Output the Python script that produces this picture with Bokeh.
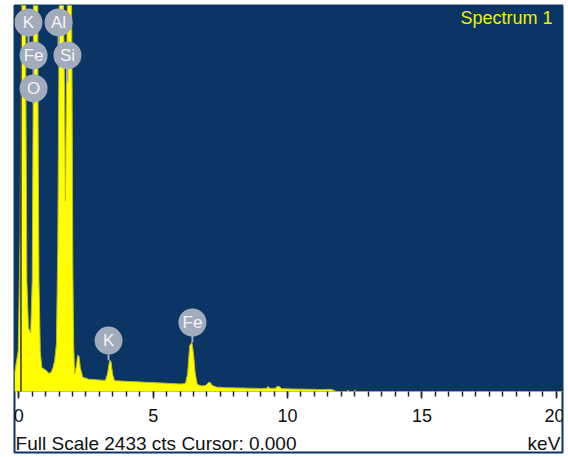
from bokeh.plotting import figure
from bokeh.models import Range1d, LinearAxis, FixedTicker, BoxAnnotation, Label, ColumnDataSource
from bokeh.core.properties import value
from bokeh.embed import file_html
from bokeh.resources import INLINE

# ---------------- data ----------------
full_scale_cts = 2433
spectrum_title = "Spectrum 1"
cursor_kev = [0.08]

energy_kev = [-0.16, -0.02, 0.05, 0.08, 0.11, 0.23, 0.26, 0.30, 0.36, 0.44, 0.50, 0.54,
              0.57, 0.68, 0.71, 0.75, 0.80, 0.86, 1.00, 1.12, 1.20, 1.27, 1.33, 1.40,
              1.45, 1.49, 1.51, 1.55, 1.62, 1.66, 1.70, 1.735, 1.77, 1.81, 1.85, 1.92,
              1.96, 1.98, 2.01, 2.04, 2.08, 2.14, 2.19, 2.24, 2.29, 2.38, 2.60, 3.00,
              3.22, 3.30, 3.38, 3.43, 3.49, 3.56, 4.00, 4.50, 5.00, 5.50, 6.00, 6.20,
              6.28, 6.36, 6.44, 6.50, 6.56, 6.64, 6.80, 6.95, 7.05, 7.12, 7.20, 7.35,
              7.70, 8.30, 9.00, 9.22, 9.28, 9.34, 9.55, 9.62, 9.70, 9.78, 10.2, 10.8,
              11.3, 11.6, 11.72, 11.8, 12.2, 12.25, 12.3, 12.45, 12.5, 12.55, 20.23]
counts = [110, 260, 1000, 2200, 6000, 6000, 2000, 700, 400, 370, 700, 2000,
          6000, 6000, 2000, 700, 250, 150, 135, 115, 120, 150, 190, 300,
          900, 2000, 2500, 9000, 9000, 2500, 1900, 1200, 1900, 2500, 9000, 9000,
          2500, 2000, 800, 300, 110, 160, 228, 222, 150, 90, 78, 72,
          70, 110, 196, 190, 110, 68, 64, 60, 56, 52, 47, 50,
          110, 290, 310, 240, 120, 45, 35, 38, 55, 58, 38, 28,
          24, 22, 19, 20, 32, 20, 20, 34, 30, 18, 16, 14,
          12, 14, 8, 0, 0, 8, 0, 0, 8, 0, 0]

label_names = ["K", "Al", "Fe", "Si", "O", "K", "Fe"]
label_kev = [0.36, 1.48, 0.55, 1.81, 0.55, 3.34, 6.46]
label_cts = [2326, 2326, 2118, 2118, 1910, 321, 435]
stem_end_cts = [2118, 2118, 1910, 1950, 1815, 197, 311]

tick_kev = [0, 5, 10, 15, 20]
minor_tick_kev = [i * 0.5 for i in range(41)]

# text anchor positions (data units)
title_pos = (19.86, 2357)
footer_left_pos = (-0.12, -328)
footer_right_pos = (20.15, -328)

# ---------------- layout / style ----------------
BLUE = "#0A3564"
FRAME_H = 447          # frame height in px
ZERO_FROM_TOP = 386    # px from frame top to 0 counts
y_bottom = -(FRAME_H - ZERO_FROM_TOP) * full_scale_cts / ZERO_FROM_TOP

p = figure(width=564, height=454, output_backend="svg", toolbar_location=None,
           x_axis_type=None, y_axis_type=None,
           x_range=Range1d(-0.16, 20.23), y_range=Range1d(y_bottom, full_scale_cts),
           min_border_left=14, min_border_right=2, min_border_top=5, min_border_bottom=2,
           background_fill_color="white", border_fill_color="white",
           outline_line_color=BLUE, outline_line_width=2)

p.add_layout(BoxAnnotation(bottom=0, fill_color=BLUE, fill_alpha=1.0,
                           line_color=None, level="underlay"))

src = ColumnDataSource(dict(e=energy_kev, c=counts))
p.varea(x="e", y1=0, y2="c", source=src, fill_color="#FFFF00")
p.line(x="e", y="c", source=src, line_color="#B9B92A", line_width=1)

p.segment(x0=cursor_kev, y0=[0], x1=cursor_kev, y1=[full_scale_cts],
          line_color="#333333", line_width=1.5)

# element markers
p.segment(x0=label_kev, y0=label_cts, x1=label_kev, y1=stem_end_cts,
          line_color="#A2ABBB", line_width=2)
p.scatter(x=label_kev, y=label_cts, size=28, fill_color="#A2ABBB", line_color=None)
p.text(x=label_kev, y=label_cts, text=label_names, text_align="center",
       text_baseline="middle", text_color="#F4F4F4",
       text_font=value("Liberation Sans"), text_font_size="17px")

xaxis = LinearAxis(fixed_location=0,
                   ticker=FixedTicker(ticks=tick_kev, minor_ticks=minor_tick_kev),
                   axis_line_color=None,
                   major_tick_in=0, major_tick_out=7, minor_tick_in=0, minor_tick_out=5,
                   major_tick_line_color="#222222", minor_tick_line_color="#222222",
                   major_tick_line_width=1.5, minor_tick_line_width=1.5,
                   major_label_text_font="Liberation Sans",
                   major_label_text_font_size="18px",
                   major_label_text_color="#111111",
                   major_label_standoff=10)
p.add_layout(xaxis, "below")

p.add_layout(Label(x=title_pos[0], y=title_pos[1],
                   text=spectrum_title, text_align="right", text_baseline="alphabetic",
                   text_color="#F0F000", text_font="Liberation Sans",
                   text_font_size="18px"))
p.add_layout(Label(x=footer_left_pos[0], y=footer_left_pos[1],
                   text=f"Full Scale {full_scale_cts} cts Cursor: 0.000",
                   text_align="left", text_baseline="alphabetic",
                   text_color="#111111", text_font="Liberation Sans",
                   text_font_size="19px"))
p.add_layout(Label(x=footer_right_pos[0], y=footer_right_pos[1],
                   text="keV", text_align="right", text_baseline="alphabetic",
                   text_color="#111111", text_font="Liberation Sans",
                   text_font_size="19px"))

open("out.html", "w").write(file_html(p, INLINE))
